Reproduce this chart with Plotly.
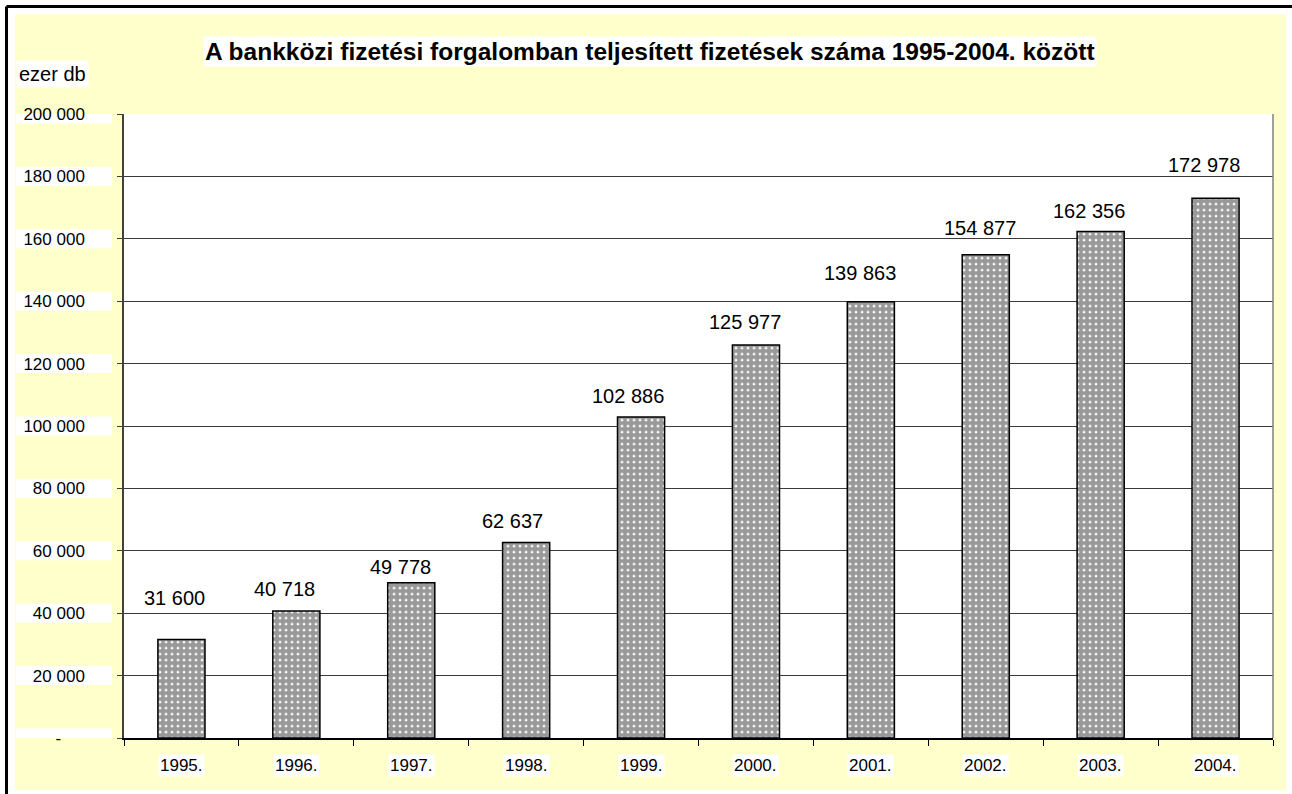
import plotly.graph_objects as go

years = ["1995.", "1996.", "1997.", "1998.", "1999.", "2000.", "2001.", "2002.", "2003.", "2004."]
values = [31600, 40718, 49778, 62637, 102886, 125977, 139863, 154877, 162356, 172978]
value_labels = ["31 600", "40 718", "49 778", "62 637", "102 886", "125 977", "139 863", "154 877", "162 356", "172 978"]
y_ticks = [0, 20000, 40000, 60000, 80000, 100000, 120000, 140000, 160000, 180000, 200000]
y_tick_labels = ["-\u00a0\u00a0\u00a0\u00a0\u00a0", "20 000", "40 000", "60 000", "80 000", "100 000",
                 "120 000", "140 000", "160 000", "180 000", "200 000"]
title_text = "A bankközi fizetési forgalomban teljesített fizetések száma 1995-2004. között"
unit_text = "ezer db"

# label offsets (pixels) as placed in the original chart
label_dy = [41, 22, 16, 22, 21, 23, 29, 27, 20, 33]
label_dx = [-7, -12, -11, -14, -13, -11, -11, -6, -12, -12]

W, H = 1292, 794
L, R, T, B = 124, 1273, 114, 738
FONT = "Arial, 'Liberation Sans', sans-serif"


def px(x):
    return (x - L) / (R - L)


def py(y):
    return (B - y) / (B - T)


fig = go.Figure()
fig.add_trace(go.Bar(
    x=years, y=values, width=0.41,
    marker=dict(color="white", line=dict(color="black", width=1.5),
                pattern=dict(shape=".", fgcolor="#333333", bgcolor="white", size=6, solidity=0.8)),
    hoverinfo="x+y", showlegend=False,
))

shapes = [
    dict(type="rect", xref="paper", yref="paper", x0=px(15), x1=px(1286), y0=py(790), y1=py(14),
         fillcolor="#FFFFCC", line=dict(width=0), layer="below"),
    dict(type="rect", xref="paper", yref="paper", x0=0, x1=1, y0=0, y1=1,
         fillcolor="white", line=dict(width=0), layer="below"),
    dict(type="line", xref="paper", yref="paper", x0=1, x1=1, y0=0, y1=1,
         line=dict(color="#808080", width=1.5), layer="above"),
    dict(type="line", xref="paper", yref="paper", x0=px(6.5), x1=px(W + 5), y0=py(6.5), y1=py(6.5),
         line=dict(color="black", width=3)),
    dict(type="line", xref="paper", yref="paper", x0=px(6.5), x1=px(6.5), y0=py(H + 5), y1=py(6.5),
         line=dict(color="black", width=3)),
]
for v in y_ticks:
    shapes.append(dict(type="rect", xref="paper", yref="y", x0=px(16), x1=px(112),
                       y0=v - 3050, y1=v + 3050, fillcolor="white", line=dict(width=0), layer="below"))

annotations = []
for i, (v, t, dy, dx) in enumerate(zip(values, value_labels, label_dy, label_dx)):
    annotations.append(dict(x=i, y=v, xref="x", yref="y", text=t, showarrow=False,
                            yanchor="middle", yshift=dy, xshift=dx,
                            font=dict(family=FONT, size=20, color="black")))
for i, yr in enumerate(years):
    annotations.append(dict(x=i, y=0, xref="x", yref="paper", text=yr, showarrow=False,
                            yanchor="top", yshift=-16, bgcolor="white", borderpad=1,
                            font=dict(family=FONT, size=17, color="black")))
annotations.append(dict(x=px(650), y=py(52), xref="paper", yref="paper", text="<b>" + title_text + "</b>",
                        showarrow=False, xanchor="center", yanchor="middle", bgcolor="white", borderpad=1,
                        font=dict(family=FONT, size=24.5, color="black")))
annotations.append(dict(x=px(16), y=py(74), xref="paper", yref="paper", text=unit_text,
                        showarrow=False, xanchor="left", yanchor="middle", bgcolor="white", borderpad=2,
                        font=dict(family=FONT, size=20, color="black")))

fig.update_layout(
    width=W, height=H,
    margin=dict(l=L, r=W - R, t=T, b=H - B, pad=0),
    paper_bgcolor="white", plot_bgcolor="white",
    shapes=shapes, annotations=annotations,
    xaxis=dict(type="category", showticklabels=False, ticks="outside", ticklen=6, tickcolor="black",
               tickson="boundaries", showgrid=False, showline=True, linecolor="black", linewidth=1.5,
               range=[-0.5, 9.5], fixedrange=True),
    yaxis=dict(range=[0, 200000], tickvals=y_ticks, ticktext=y_tick_labels, ticks="outside", ticklen=5,
               tickcolor="#404040", showgrid=True, gridcolor="#3a3a3a", gridwidth=1,
               showline=True, linecolor="#404040", linewidth=1.5, zeroline=False,
               ticklabelstandoff=29, tickfont=dict(family=FONT, size=17, color="black")),
    font=dict(family=FONT, color="black"),
)

fig.write_html("out.html", config={"displayModeBar": False},
               post_script="document.body.style.margin='0';document.body.style.overflow='hidden';")
